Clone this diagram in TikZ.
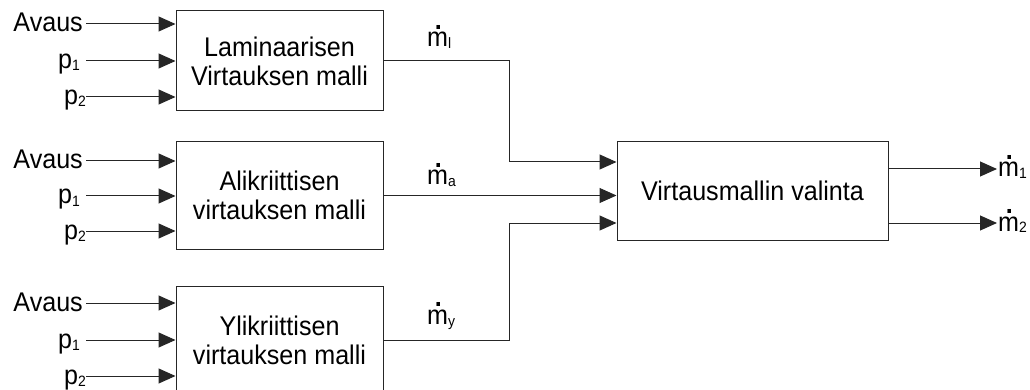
\documentclass[tikz,border=0pt]{standalone}
\usepackage{fontspec}
\setmainfont[FakeStretch=0.93]{Liberation Sans}
\usetikzlibrary{arrows.meta}
\newcommand{\mdt}{\makebox[0pt][l]{\hspace{0.28em}\raisebox{0.66em}{\textbf{.}}}m}
\newcommand{\sbs}[2][-2pt]{\raisebox{#1}{\fontsize{15}{15}\selectfont #2}}
\begin{document}
\begin{tikzpicture}[x=1pt,y=-1pt,
  font=\fontsize{27}{29}\selectfont,
  ln/.style={draw=black!85, line width=1pt},
  arr/.style={ln,-{Triangle[length=17pt,width=15pt]}},
  blk/.style={draw=black!85, line width=1pt, align=center, inner sep=0pt},
  lab/.style={anchor=base east, inner sep=0pt},
  mlab/.style={anchor=base west, inner sep=0pt}]
\useasboundingbox (0,0) rectangle (1030,390);
\clip (0,0) rectangle (1030,390);
% blocks
\node[blk, minimum width=207pt, minimum height=100pt] (b1) at (279.5,61) {Laminaarisen\\Virtauksen malli};
\node[blk, minimum width=207pt, minimum height=107pt] (b2) at (279.5,195.5) {Alikriittisen\\virtauksen malli};
\node[blk, minimum width=207pt, minimum height=108pt] (b3) at (279.5,340) {Ylikriittisen\\virtauksen malli};
\node[blk, minimum width=271pt, minimum height=98pt] (vm) at (752.5,191) {Virtausmallin valinta};
% inputs
\foreach \b/\ya/\yb/\yc in {b1/24/61/97, b2/161/196/231, b3/303/340/376}{
  \coordinate (\b a) at (86,\ya);
  \coordinate (\b p) at (86,\yb);
  \coordinate (\b q) at (86,\yc);
  \node[lab] (\b la) at (83,\ya+8) {Avaus};
  \node[lab] (\b lp) at (80,\yb+8) {p\sbs{1}};
  \node[lab] (\b lq) at (86,\yc+8) {p\sbs{2}};
  \draw[arr] (\b a) -- (\b.west |- \b a);
  \draw[arr] (\b p) -- (\b.west |- \b p);
  \draw[arr] (\b q) -- (\b.west |- \b q);
}
% block outputs
\coordinate (k1) at (509,162);
\coordinate (k3) at (509,223);
\draw[arr] (b1.east) -| (k1) -- (vm.west |- k1);
\draw[arr] (b2.east) -- (vm.west |- b2.east);
\draw[arr] (b3.east) -| (k3) -- (vm.west |- k3);
\node[mlab] (ml) at (427,47) {\mdt\sbs{l}};
\node[mlab] (ma) at (427,185) {\mdt\sbs{a}};
\node[mlab] (my) at (427,324) {\mdt\sbs{y}};
% outputs
\coordinate (o1) at (997,169);
\coordinate (o2) at (997,223);
\draw[arr] (vm.east |- o1) -- (o1);
\draw[arr] (vm.east |- o2) -- (o2);
\node[mlab] (m1) at (998,177) {\mdt\sbs{1}};
\node[mlab] (m2) at (998,231) {\mdt\sbs{2}};
\end{tikzpicture}
\end{document}
